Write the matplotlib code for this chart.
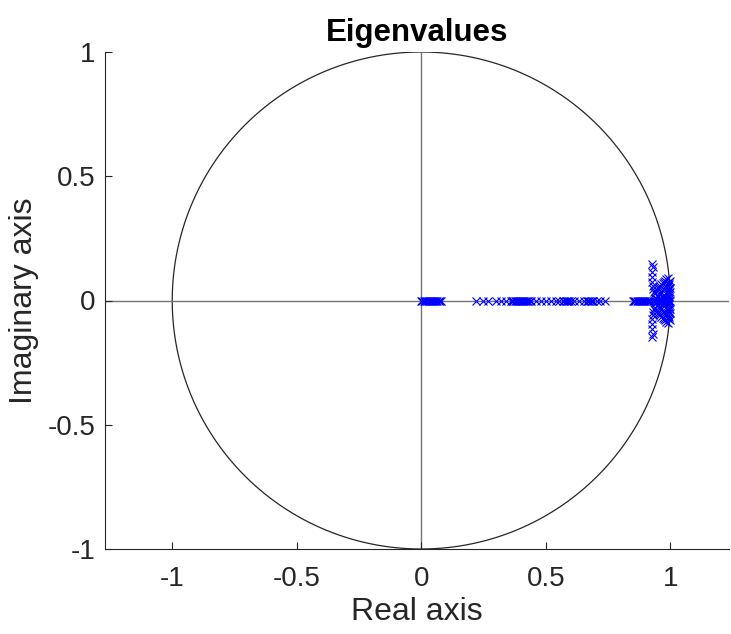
import numpy as np
import matplotlib
matplotlib.use("Agg")
import matplotlib.pyplot as plt

plt.rcParams['font.family'] = ['Liberation Sans', 'DejaVu Sans']
plt.rcParams['axes.unicode_minus'] = False

# Real eigenvalues (on the real axis)
real_eigs = [0.0, 0.005, 0.01, 0.015, 0.02, 0.025, 0.03, 0.035, 0.04, 0.045,
             0.05, 0.055, 0.06, 0.065, 0.07, 0.075, 0.08,
             0.22, 0.25, 0.27, 0.30, 0.32, 0.34,
             0.36, 0.365, 0.37, 0.375, 0.38, 0.385, 0.39, 0.395, 0.40, 0.405,
             0.41, 0.415, 0.42, 0.425, 0.43, 0.435, 0.44,
             0.46, 0.48, 0.50, 0.52, 0.54, 0.555,
             0.57, 0.575, 0.58, 0.585, 0.59, 0.595, 0.60,
             0.615, 0.635, 0.655, 0.665, 0.67, 0.675, 0.68, 0.685, 0.69,
             0.705, 0.72, 0.74,
             0.85, 0.855, 0.86, 0.865, 0.87, 0.875, 0.88, 0.885, 0.89, 0.895,
             0.90, 0.905, 0.91, 0.915, 0.92, 0.93, 0.94, 0.95, 0.96, 0.97,
             0.98, 0.99, 0.995, 1.0]

# Complex eigenvalues (upper half; conjugates drawn too)
cplx_re = [0.925, 0.93, 0.925, 0.925, 0.925, 0.93, 0.93, 0.935, 0.94,
           0.945, 0.95, 0.955, 0.96, 0.965, 0.97, 0.975, 0.98, 0.985, 0.99,
           0.95, 0.955, 0.96, 0.965, 0.97, 0.975, 0.98, 0.985, 0.99, 0.995,
           0.94, 0.945, 0.95, 0.96, 0.97, 0.98, 0.99, 0.995, 0.998,
           0.99, 0.995, 0.998, 0.99, 0.995, 0.998, 0.992, 0.996, 0.985, 0.975]
cplx_im = [0.145, 0.135, 0.115, 0.095, 0.075, 0.06, 0.045, 0.035, 0.03,
           0.045, 0.05, 0.055, 0.06, 0.065, 0.07, 0.075, 0.08, 0.088, 0.09,
           0.02, 0.025, 0.03, 0.035, 0.04, 0.045, 0.05, 0.055, 0.06, 0.065,
           0.01, 0.012, 0.015, 0.012, 0.015, 0.02, 0.025, 0.03, 0.035,
           0.04, 0.045, 0.05, 0.07, 0.075, 0.08, 0.01, 0.015, 0.005, 0.008]

fig = plt.figure(figsize=(7.31, 6.34), dpi=100)
ax = fig.add_axes([105/731, 85/634, 623.7/731, 497/634])

theta = np.linspace(0, 2*np.pi, 721)
ax.plot(np.cos(theta), np.sin(theta), color='0.15', lw=0.9, zorder=1)
ax.axhline(0, color='0.45', lw=1.0, zorder=1)
ax.axvline(0, color='0.45', lw=1.0, zorder=1)

re_all = list(real_eigs) + list(cplx_re) + list(cplx_re)
im_all = [0.0]*len(real_eigs) + list(cplx_im) + [-v for v in cplx_im]
ax.plot(re_all, im_all, linestyle='none', marker='x', color=(0, 0, 1),
        markersize=5.5, markeredgewidth=0.8, zorder=3)

ax.set_xlim(-1.27, 1.235)
ax.set_ylim(-1, 1)
ticks = [-1, -0.5, 0, 0.5, 1]
labels = ['-1', '-0.5', '0', '0.5', '1']
ax.set_xticks(ticks)
ax.set_xticklabels(labels)
ax.set_yticks(ticks)
ax.set_yticklabels(labels)
ax.spines['top'].set_visible(False)
ax.spines['right'].set_visible(False)
for s in ('left', 'bottom'):
    ax.spines[s].set_color('0.15')
    ax.spines[s].set_linewidth(0.8)
ax.tick_params(direction='in', length=5, width=0.8, color='0.15',
               labelsize=20, labelcolor='0.15')
ax.tick_params(axis='x', pad=12)
ax.tick_params(axis='y', pad=7)

ax.set_title('Eigenvalues', fontsize=22.5, fontweight='bold', pad=8)
ax.set_xlabel('Real axis', fontsize=23, color='0.15', labelpad=4)
ax.set_ylabel('Imaginary axis', fontsize=23, color='0.15', labelpad=6)

fig.savefig('out.png', dpi=100)
